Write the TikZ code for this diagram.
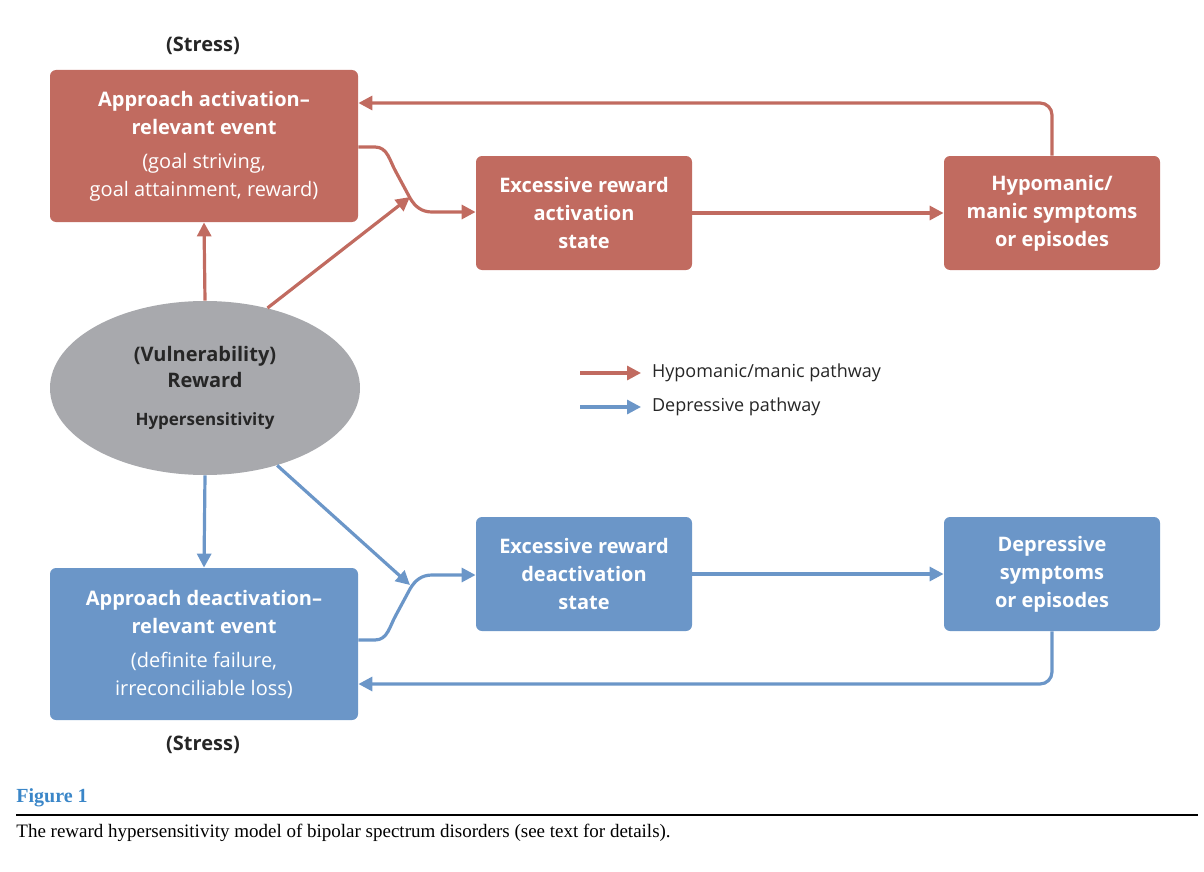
\documentclass[tikz,border=0pt]{standalone}
\usepackage{fontspec}
\setmainfont{Open Sans}
\newfontfamily\capfont{Liberation Serif}
\usetikzlibrary{arrows.meta,shapes.geometric}
\definecolor{rd}{HTML}{C16B60}
\definecolor{bl}{HTML}{6B96C8}
\definecolor{gr}{HTML}{A8A9AD}
\definecolor{fig}{HTML}{3A86C8}
\begin{document}
\begin{tikzpicture}[x=0.5pt,y=-0.5pt,
  box/.style={rounded corners=3pt,inner sep=0pt,text=white,font=\bfseries\fontsize{10}{14}\selectfont,align=center},
  rbox/.style={box,fill=rd},bbox/.style={box,fill=bl},
  ra/.style={draw=rd,line width=1.6pt,-{Triangle[length=7pt,width=7pt]}},
  ba/.style={draw=bl,line width=1.6pt,-{Triangle[length=7pt,width=7pt]}}]
\useasboundingbox (0,0) rectangle (1204,872);
\node[rbox,minimum width=154pt,minimum height=76pt] (r1) at (204,146) {Approach activation–\\relevant event\\[3pt]{\mdseries(goal striving,}\\{\mdseries goal attainment, reward)}};
\node[rbox,minimum width=108pt,minimum height=57pt] (r2) at (584,213) {Excessive reward\\activation\\state};
\node[rbox,minimum width=108pt,minimum height=57pt] (r3) at (1052,213) {Hypomanic/\\manic symptoms\\or episodes};
\node[ellipse,fill=gr,minimum width=155pt,minimum height=87pt,inner sep=0pt,align=center,font=\bfseries\fontsize{10}{13}\selectfont,text=black!85] (e) at (205,388) {(Vulnerability)\\Reward\\[6pt]{\fontsize{8.5}{10}\selectfont Hypersensitivity}};
\node[bbox,minimum width=154pt,minimum height=76pt] (b1) at (204,644) {Approach deactivation–\\relevant event\\[3pt]{\mdseries(definite failure,}\\{\mdseries irreconciliable loss)}};
\node[bbox,minimum width=108pt,minimum height=57pt] (b2) at (584,574) {Excessive reward\\deactivation\\state};
\node[bbox,minimum width=108pt,minimum height=57pt] (b3) at (1052,574) {Depressive\\symptoms\\or episodes};
\node[font=\bfseries\fontsize{10}{12}\selectfont,text=black!85] (s1) at (203,46) {(Stress)};
\node[font=\bfseries\fontsize{10}{12}\selectfont,text=black!85] (s2) at (203,745) {(Stress)};
% red arrows
\draw[ra] (e.north) -- (r1.south);
\draw[ra] (e.52) -- (410,197);
\draw[ra] (r1.east |- 0,147) -- (375,147) to[out=0,in=120] (396,172) -- (410,198) to[out=-60,in=180] (432,212) -- (r2.west |- 0,212);
\draw[ra] (r2.east) -- (r3.west);
\draw[ra,rounded corners=6pt] (r3.north) -- (1052,103) -- (r1.east |- 0,103);
% blue arrows
\draw[ba] (e.south) -- (b1.north);
\draw[ba] (e.-47) -- (410,585);
\draw[ba] (b1.east |- 0,640) -- (375,640) to[out=0,in=-120] (396,615) -- (410,589) to[out=60,in=180] (432,575) -- (b2.west |- 0,575);
\draw[ba] (b2.east) -- (b3.west);
\draw[ba,rounded corners=6pt] (b3.south) -- (1052,684) -- (b1.east |- 0,684);
% legend
\coordinate (l1) at (580,373); \coordinate (l1e) at (641,373);
\coordinate (l2) at (580,407); \coordinate (l2e) at (641,407);
\draw[ra] (l1) -- (l1e);
\draw[ba] (l2) -- (l2e);
\node[anchor=west,font=\fontsize{9}{11}\selectfont,text=black!85] (t1) at (645,373) {Hypomanic/manic pathway};
\node[anchor=west,font=\fontsize{9}{11}\selectfont,text=black!85] (t2) at (645,407) {Depressive pathway};
% caption
\node[anchor=west,font=\capfont\bfseries\fontsize{10}{12}\selectfont,text=fig,inner sep=0pt] (f) at (16,798) {Figure 1};
\draw[black,line width=0.6pt] (16,815) -- (1198,815);
\node[anchor=west,font=\capfont\fontsize{9.5}{12}\selectfont,inner sep=0pt] (c) at (16,833) {The reward hypersensitivity model of bipolar spectrum disorders (see text for details).};
\end{tikzpicture}
\end{document}
